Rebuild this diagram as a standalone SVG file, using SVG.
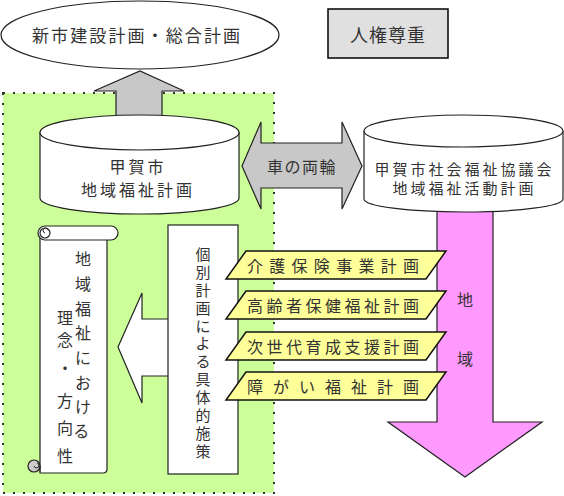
<svg xmlns="http://www.w3.org/2000/svg" width="564" height="496" viewBox="0 0 564 496">
<style>
text{font-family:"Noto Sans CJK JP","Noto Sans",sans-serif;fill:#333;dominant-baseline:central;text-anchor:middle}
.ln{stroke:#222;stroke-width:1.2}
.para{fill:#ffff99;stroke:#111;stroke-width:1.5}
.pt{font-size:16px}
</style>
<rect width="564" height="496" fill="#fff"/>
<g id="area">
<rect x="3" y="93" width="271" height="400" fill="#ccff99" stroke="#333" stroke-width="2" stroke-dasharray="2,8"/>
</g>
<g id="connectors">
<polygon class="ln" fill="#c8c8c8" points="116,125 116,91 94,91 140,71 184,91 162,91 162,125"/>
<polygon class="ln" fill="#c8c8c8" points="242,166 261,122 261,143 342,143 342,122 362,166 342,209 342,188 261,188 261,209"/>
<polygon class="ln" fill="#ff99ff" points="437,205 493,205 493,422 542,422 465,477 388,422 437,422"/>
<polygon class="ln" fill="#fff" points="118,347 142,293 142,319 170,319 170,376 142,376 142,403"/>
</g>
<g id="top-ellipse">
<ellipse cx="140" cy="35" rx="139" ry="34" fill="#fff" class="ln"/>
<text x="136" y="34" font-size="17" textLength="208" lengthAdjust="spacing">新市建設計画・総合計画</text>
</g>
<g id="jinken">
<rect x="328" y="9" width="120" height="49" fill="#e0e0e0" stroke="#000" stroke-width="1.5"/>
<text x="388" y="34" font-size="18" letter-spacing="1">人権尊重</text>
</g>
<g id="koka-plan">
<path class="ln" fill="#fff" d="M40,132 V198 A99.5,16 0 0 0 239,198 V132"/>
<ellipse class="ln" fill="#fff" cx="139.5" cy="132.5" rx="99.5" ry="17.5"/>
<text x="138" y="166" font-size="16" letter-spacing="3">甲賀市</text>
<text x="138" y="189" font-size="16" letter-spacing="3">地域福祉計画</text>
</g>
<g id="wheels-label">
<text x="302" y="166" font-size="16" letter-spacing="1.5">車の両輪</text>
</g>
<g id="shakyo-plan">
<path class="ln" fill="#fff" d="M364,131 V199 A99.5,13 0 0 0 563,199 V131"/>
<ellipse class="ln" fill="#fff" cx="463.5" cy="131" rx="99.5" ry="16"/>
<text x="463" y="168" font-size="15" textLength="177" lengthAdjust="spacing">甲賀市社会福祉協議会</text>
<text x="463" y="187" font-size="15" textLength="141" lengthAdjust="spacing">地域福祉活動計画</text>
</g>
<g id="chiiki-label">
<text x="465" y="299" font-size="16">地</text>
<text x="465" y="358" font-size="16">域</text>
</g>
<g id="scroll">
<path class="ln" fill="#fff" d="M40,236 V473 H103 Q107,473 107,469 V236 Z"/>
<rect class="ln" fill="#fff" x="38" y="226" width="80" height="14" rx="7"/>
<circle class="ln" fill="#fff" cx="45" cy="233" r="5"/>
<path fill="none" stroke="#222" stroke-width="1" d="M45,233 A2.5,2.5 0 1 1 48,230"/>
<circle class="ln" fill="#cccccc" cx="34" cy="466" r="6"/>
<path fill="none" stroke="#222" stroke-width="1" d="M34,466 A2.5,2.5 0 1 0 37,463 M40,466 V472"/>
<text font-size="16">
<tspan x="83" y="258">地</tspan><tspan x="83" y="283">域</tspan><tspan x="83" y="308">福</tspan><tspan x="83" y="332">祉</tspan><tspan x="83" y="357">に</tspan><tspan x="83" y="382">お</tspan><tspan x="83" y="406">け</tspan><tspan x="83" y="430">る</tspan>
<tspan x="65" y="317">理</tspan><tspan x="65" y="339">念</tspan><tspan x="65" y="367">・</tspan><tspan x="65" y="400">方</tspan><tspan x="65" y="427">向</tspan><tspan x="65" y="455">性</tspan>
</text>
</g>
<g id="measures">
<rect class="ln" fill="#fff" x="168" y="225" width="70" height="249"/>
<text font-size="15">
<tspan x="203" y="253">個</tspan><tspan x="203" y="271">別</tspan><tspan x="203" y="289">計</tspan><tspan x="203" y="307">画</tspan><tspan x="203" y="325">に</tspan><tspan x="203" y="342">よ</tspan><tspan x="203" y="360">る</tspan><tspan x="203" y="378">具</tspan><tspan x="203" y="396">体</tspan><tspan x="203" y="414">的</tspan><tspan x="203" y="432">施</tspan><tspan x="203" y="450">策</tspan>
</text>
</g>
<g id="plan1">
<polygon class="para" points="246,251 446,251 426,279 226,279"/>
<text class="pt" x="333" y="265" textLength="172" lengthAdjust="spacing">介護保険事業計画</text>
</g>
<g id="plan2">
<polygon class="para" points="246,291 446,291 426,319 226,319"/>
<text class="pt" x="333" y="305" textLength="172" lengthAdjust="spacing">高齢者保健福祉計画</text>
</g>
<g id="plan3">
<polygon class="para" points="246,332 446,332 426,360 226,360"/>
<text class="pt" x="333" y="346" textLength="172" lengthAdjust="spacing">次世代育成支援計画</text>
</g>
<g id="plan4">
<polygon class="para" points="246,372 446,372 426,400 226,400"/>
<text class="pt" x="333" y="386" textLength="172" lengthAdjust="spacing">障がい福祉計画</text>
</g>
</svg>
